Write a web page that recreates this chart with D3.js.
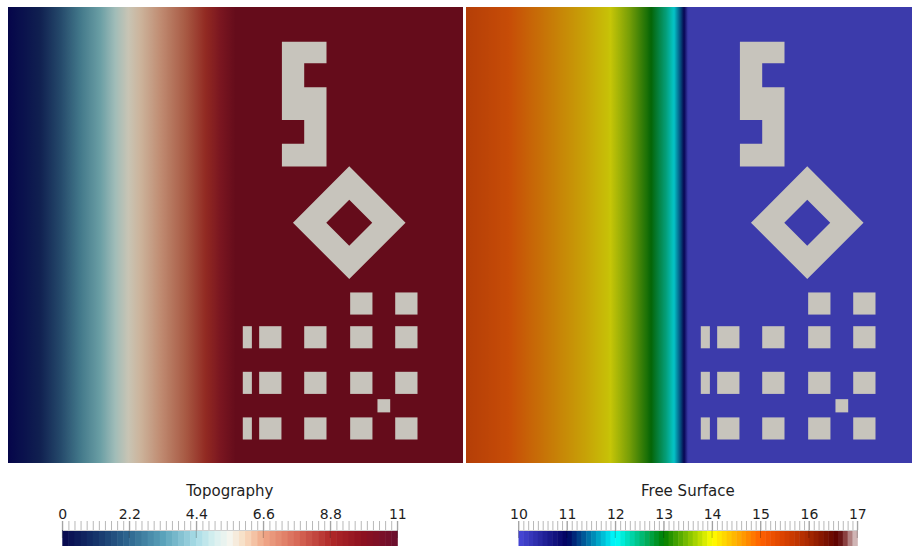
<!DOCTYPE html>
<meta charset="utf-8">

<head>

	<title> Topography / Free Surface </title>

	<style>
		body {
			margin: 0;
			background: #fff;
		}
		text {
			font-family: "DejaVu Sans", "Liberation Sans", sans-serif;
			fill: #1e1e1e;
		}
	</style>

</head>

<body>
	<div class="container"> </div>
</body>

<!-- D3.js -->
<script src="https://cdnjs.cloudflare.com/ajax/libs/d3/7.8.5/d3.min.js"></script>

<script type="text/javascript">

	// Page width/height
	var width = 912;
	var height = 546;

	// Topography profile along the channel (x in domain units 0-100)
	var topoX = [0, 50, 100];
	var topoZ = [0, 10, 10];

	// Free surface profile along the channel
	var surfX = [0, 9.5, 18.2, 25.7, 31.2, 35.8, 40.7, 44.0, 45.7, 47.3, 47.9, 48.8, 100];
	var surfZ = [15.3, 15.0, 14.64, 14.32, 14.05, 13.6, 13.0, 12.4, 12.0, 11.3, 11.0, 10.0, 10.0];

	// Buildings [x, y, w, h] in domain units
	var blocks = [
		[75.2, 62.6, 4.9, 4.85], [85.1, 62.6, 4.9, 4.85],
		[51.6, 70, 2.0, 4.85], [55.2, 70, 4.9, 4.85], [65.1, 70, 4.9, 4.85], [75.2, 70, 4.9, 4.85], [85.1, 70, 4.9, 4.85],
		[51.6, 80, 2.0, 4.85], [55.2, 80, 4.9, 4.85], [65.1, 80, 4.9, 4.85], [75.2, 80, 4.9, 4.85], [85.1, 80, 4.9, 4.85],
		[81.2, 86.0, 2.8, 2.9],
		[51.6, 90, 2.0, 4.85], [55.2, 90, 4.9, 4.85], [65.1, 90, 4.9, 4.85], [75.2, 90, 4.9, 4.85], [85.1, 90, 4.9, 4.85]
	];

	// "S" shaped building outline
	var sShape = [
		[60.2, 7.6], [70, 7.6], [70, 12.35], [65.1, 12.35], [65.1, 17.6], [70, 17.6],
		[70, 35], [60.2, 35], [60.2, 30], [65.1, 30], [65.1, 24.8], [60.2, 24.8]
	];

	// Diamond ring building: centre and half diagonals
	var ringCentre = [75.0, 47.3];
	var ringRadii = [12.37, 5.05];

	// Colour maps (colour bars)
	var topoStops = [0, 1.1, 2.2, 3.3, 4.4, 5.0, 5.5, 6.0, 6.6, 7.7, 8.8, 9.9, 11];
	var topoColors = ["#07074d", "#15346a", "#2e6890", "#5aa2ba", "#a8dce6", "#d8f0f0", "#f5f5ee",
		"#f8dcc0", "#f0a888", "#d86a58", "#b02828", "#8c1020", "#6a0f2e"];
	var surfStops = [10, 11, 12, 13, 14, 15, 15.5, 16, 16.6, 16.75, 16.85, 17];
	var surfColors = ["#4848d8", "#000060", "#00ffff", "#008000", "#ffff00", "#ff6000", "#d84000",
		"#a82800", "#5a0000", "#8a4040", "#b08080", "#e0d0d0"];

	// Topography as it looks lit in the view
	var topoLitStops = [0, 1.41, 2.29, 3.17, 4.05, 4.71, 5.29, 5.81, 6.7, 7.8, 8.68, 9.34, 10];
	var topoLitColors = ["#05054a", "#102050", "#24486a", "#42788a", "#6a9ea4", "#a0bcb8", "#c8c4b4",
		"#ccb49c", "#c08c72", "#a85a44", "#922a22", "#7a1620", "#650c1b"];

	// Colour bar labels
	var topoTicks = [0, 2.2, 4.4, 6.6, 8.8, 11];
	var surfTicks = [10, 11, 12, 13, 14, 15, 16, 17];

	var topoColor = d3.scaleLinear().domain(topoStops).range(topoColors).clamp(true);
	var surfColor = d3.scaleLinear().domain(surfStops).range(surfColors).clamp(true);
	var topoLit = d3.scaleLinear().domain(topoLitStops).range(topoLitColors).clamp(true);

	var topoProfile = d3.scaleLinear().domain(topoX).range(topoZ);
	var surfProfile = d3.scaleLinear().domain(surfX).range(surfZ);

	// free surface view is a bit darker than its colour bar (lighting)
	function surfLit(v) {
		return d3.interpolateRgb(surfColor(v), "#14101c")(0.24);
	}

	var svg = d3.select(".container").append("svg")
		.attr("width", width)
		.attr("height", height)
		.style("display", "block");

	var defs = svg.append("defs");

	var y = d3.scaleLinear().domain([0, 100]).range([7, 463]);

	var panels = [
		{ id: "topo", x: d3.scaleLinear().domain([0, 100]).range([8, 463]), profile: topoProfile, color: topoLit },
		{ id: "surf", x: d3.scaleLinear().domain([0, 100]).range([466, 921]), profile: surfProfile, color: surfLit }
	];

	panels.forEach(function (p) {
		var grad = defs.append("linearGradient")
			.attr("id", "grad-" + p.id)
			.attr("gradientUnits", "userSpaceOnUse")
			.attr("x1", p.x(0)).attr("x2", p.x(100))
			.attr("y1", 0).attr("y2", 0);

		grad.selectAll("stop")
			.data(d3.range(0, 100.001, 0.25))
			.enter()
			.append("stop")
			.attr("offset", function (d) { return d / 100; })
			.attr("stop-color", function (d) { return p.color(p.profile(d)); });

		var g = svg.append("g").attr("class", "panel");

		g.append("rect")
			.attr("x", p.x(0))
			.attr("y", y(0))
			.attr("width", p.x(100) - p.x(0))
			.attr("height", y(100) - y(0))
			.attr("fill", "url(#grad-" + p.id + ")");

		// buildings
		g.selectAll("rect.block")
			.data(blocks)
			.enter()
			.append("rect")
			.attr("class", "block")
			.attr("x", function (d) { return p.x(d[0]); })
			.attr("y", function (d) { return y(d[1]); })
			.attr("width", function (d) { return p.x(d[0] + d[2]) - p.x(d[0]); })
			.attr("height", function (d) { return y(d[1] + d[3]) - y(d[1]); })
			.attr("fill", "#c7c4bc");

		g.append("path")
			.attr("d", "M" + sShape.map(function (d) { return p.x(d[0]) + "," + y(d[1]); }).join("L") + "Z")
			.attr("fill", "#c7c4bc");

		var ring = ringRadii.map(function (r) {
			var cx = ringCentre[0], cy = ringCentre[1];
			return "M" + p.x(cx) + "," + y(cy - r) +
				"L" + p.x(cx + r) + "," + y(cy) +
				"L" + p.x(cx) + "," + y(cy + r) +
				"L" + p.x(cx - r) + "," + y(cy) + "Z";
		}).join("");

		g.append("path")
			.attr("d", ring)
			.attr("fill-rule", "evenodd")
			.attr("fill", "#c7c4bc");
	});

	// Colour bars
	var bars = [
		{ title: "Topography", scale: d3.scaleLinear().domain([0, 11]).range([62.3, 397.3]), step: 0.2, ticks: topoTicks, color: topoColor },
		{ title: "Free Surface", scale: d3.scaleLinear().domain([10, 17]).range([518.5, 857.3]), step: 0.1, ticks: surfTicks, color: surfColor }
	];

	bars.forEach(function (b) {
		var d0 = b.scale.domain()[0], d1 = b.scale.domain()[1];
		var n = Math.round((d1 - d0) / b.step);
		var edges = d3.range(n + 1).map(function (i) { return d0 + i * b.step; });
		var g = svg.append("g").attr("class", "colorbar");

		g.selectAll("rect")
			.data(edges.slice(0, n))
			.enter()
			.append("rect")
			.attr("x", function (d) { return b.scale(d); })
			.attr("y", 530)
			.attr("width", function (d) { return b.scale(d + b.step) - b.scale(d) + 0.5; })
			.attr("height", 16)
			.attr("fill", function (d) { return b.color(d + b.step / 2); });

		// minor ticks
		var minor = g.append("g")
			.attr("transform", "translate(0,530)")
			.call(d3.axisTop(b.scale).tickValues(edges).tickSize(9).tickSizeOuter(0).tickFormat(""));
		minor.selectAll("line").attr("stroke", "#b8b8b8");
		minor.select(".domain").attr("stroke", "#d0d0d0");

		// major ticks run into the bar
		g.selectAll("line.major")
			.data(b.ticks)
			.enter()
			.append("line")
			.attr("class", "major")
			.attr("x1", function (d) { return b.scale(d); })
			.attr("x2", function (d) { return b.scale(d); })
			.attr("y1", 521)
			.attr("y2", 538)
			.attr("stroke", "#000")
			.attr("stroke-opacity", 0.25);

		var labels = g.append("g")
			.attr("transform", "translate(0,521)")
			.call(d3.axisTop(b.scale).tickValues(b.ticks).tickSize(0).tickPadding(2)
				.tickFormat(function (d) { return d3.format("~g")(d); }));
		labels.select(".domain").remove();
		labels.selectAll("text")
			.attr("font-family", null)
			.style("font-size", "14px")
			.attr("fill", "#1e1e1e");

		g.append("text")
			.attr("x", (b.scale.range()[0] + b.scale.range()[1]) / 2)
			.attr("y", 495.5)
			.attr("text-anchor", "middle")
			.style("font-size", "15px")
			.text(b.title);
	});

</script>

</html>
